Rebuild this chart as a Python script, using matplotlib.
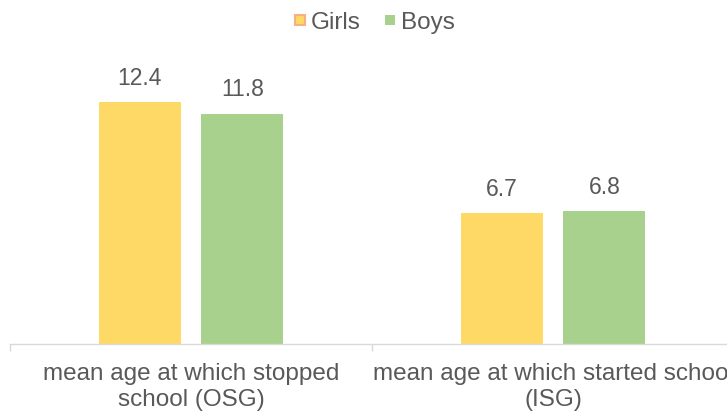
import numpy as np
import matplotlib.pyplot as plt

# values
categories = ['mean age at which stopped\nschool (OSG)',
              'mean age at which started school\n(ISG)']
girls = [12.4, 6.7]
boys = [11.8, 6.8]

plt.rcParams['font.family'] = ['Liberation Sans', 'DejaVu Sans']
text_col = '#595959'
grid_col = '#D9D9D9'

fig = plt.figure(figsize=(7.27, 4.12), dpi=100)
ax = fig.add_axes([10/727, 68/412, 724/727, 273/412])

x = np.arange(len(categories))
w = 0.227
off = 0.142
b1 = ax.bar(x - off, girls, w, color='#FFD966', label='Girls')
b2 = ax.bar(x + off, boys, w, color='#A9D18E', label='Boys')

for bars, vals in ((b1, girls), (b2, boys)):
    for r, v in zip(bars, vals):
        ax.annotate('{:.1f}'.format(v), (r.get_x() + r.get_width()/2, v),
                    xytext=(0, 9), textcoords='offset points',
                    ha='center', va='bottom', fontsize=16.5, color=text_col)

ax.set_xlim(-0.5, 1.5)
ax.set_ylim(0, 14)
ax.set_yticks([])
ax.set_xticks(x)
ax.set_xticklabels(categories, fontsize=17.5, color=text_col, linespacing=1.18)
ax.tick_params(axis='x', which='major', length=0, pad=14)
ax.set_xticks([-0.5, 0.5, 1.5], minor=True)
ax.tick_params(axis='x', which='minor', length=5, color=grid_col, width=1)

for s in ['top', 'right', 'left']:
    ax.spines[s].set_visible(False)
ax.spines['bottom'].set_color(grid_col)
ax.spines['bottom'].set_linewidth(1)

leg = fig.legend(handles=[b1, b2], loc='center', bbox_to_anchor=(375/727, 1 - 23/412),
                 ncol=2, frameon=False, fontsize=17.5, handlelength=0.42,
                 handleheight=0.26, handletextpad=0.25, columnspacing=1.0)
for t in leg.get_texts():
    t.set_color(text_col)
leg.legend_handles[0].set_edgecolor('#F4B183')
leg.legend_handles[0].set_linewidth(1.5)

plt.savefig('out.png', dpi=100)
plt.close()
